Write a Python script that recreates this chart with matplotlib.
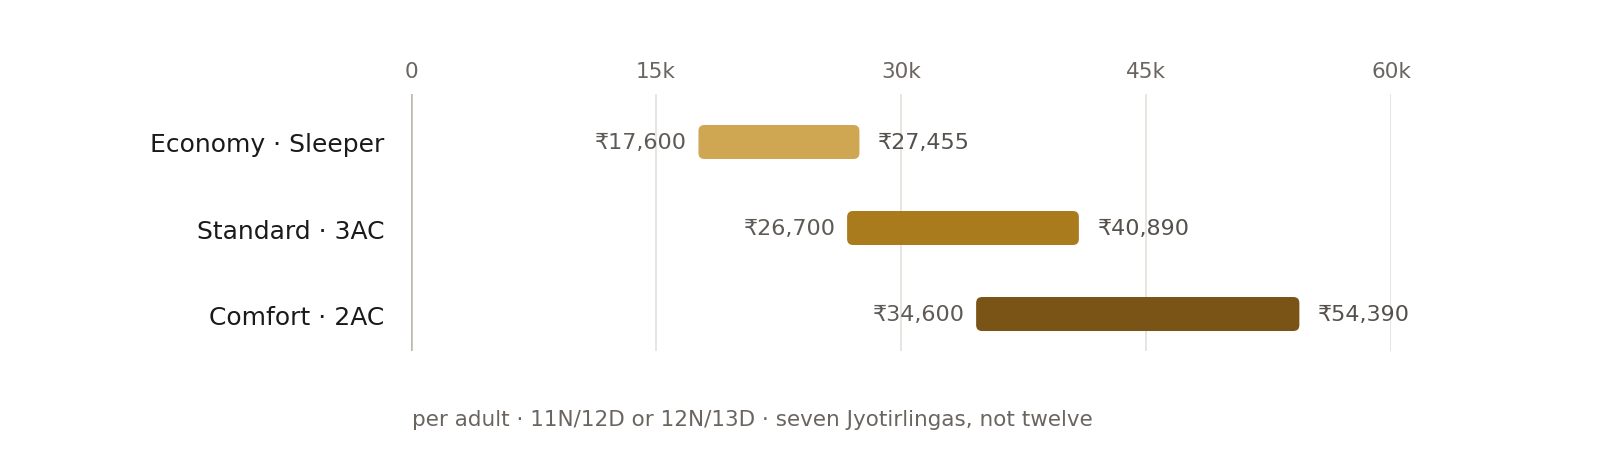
import matplotlib
matplotlib.use("Agg")
import matplotlib.pyplot as plt
from matplotlib.patches import FancyBboxPatch

tiers = ["Economy · Sleeper", "Standard · 3AC", "Comfort · 2AC"]
low = [17600, 26700, 34600]
high = [27455, 40890, 54390]
colors = ["#CFA752", "#A97B1C", "#7A5416"]
ticks = [0, 15000, 30000, 45000, 60000]
tick_labels = ["0", "15k", "30k", "45k", "60k"]
note = "per adult · 11N/12D or 12N/13D · seven Jyotirlingas, not twelve"

plt.rcParams['font.family'] = ['DejaVu Sans']

fig = plt.figure(figsize=(16, 4.64), dpi=100)
ax = fig.add_axes([411/1600, 1-352/464, 980/1600, 257/464])
ax.set_xlim(0, 60000)
ax.set_ylim(2.43, -0.558)

# px -> data scale for rounded corners
xpp = 60000/980
ypp = (2.43+0.558)/257
bh = 34*ypp
for i in range(len(tiers)):
    w = high[i]-low[i]
    p = FancyBboxPatch((low[i], i-bh/2), w, bh,
                       boxstyle="round,pad=0,rounding_size=%f" % (6*xpp),
                       mutation_aspect=ypp/xpp,
                       fc=colors[i], ec="none", zorder=3)
    ax.add_patch(p)
    ax.annotate("₹{:,}".format(low[i]), (low[i], i), xytext=(-8, 0),
                textcoords="offset points", ha="right", va="center",
                fontsize=16, color="#5f5a55")
    ax.annotate("₹{:,}".format(high[i]), (high[i], i), xytext=(13.5, 0),
                textcoords="offset points", ha="left", va="center",
                fontsize=16, color="#55504b")

for t in ticks[1:]:
    ax.axvline(t, color="#E3E0DA", lw=1.2, zorder=1)
ax.axvline(0, color="#BDB8AA", lw=1.8, zorder=2)

ax.xaxis.tick_top()
ax.set_xticks(ticks)
ax.set_xticklabels(tick_labels)
ax.set_yticks(range(len(tiers)))
ax.set_yticklabels(tiers)
ax.tick_params(axis="x", length=0, pad=9, labelsize=15.5, labelcolor="#6b6560")
ax.tick_params(axis="y", length=0, pad=19, labelsize=18, labelcolor="#1a1a1a")
for s in ax.spines.values():
    s.set_visible(False)

fig.text(412/1600, 1-420/464, note, ha="left", va="center",
         fontsize=15.5, color="#6b6560")

fig.savefig("out.png", dpi=100)
